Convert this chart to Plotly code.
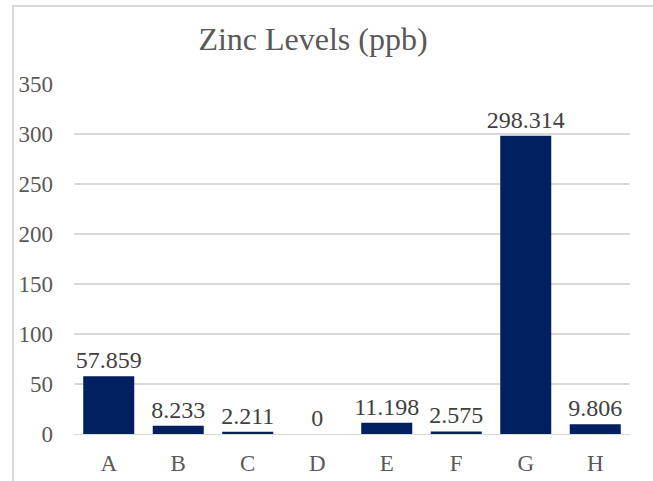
import plotly.graph_objects as go

categories = ["A", "B", "C", "D", "E", "F", "G", "H"]
zinc_ppb = [57.859, 8.233, 2.211, 0, 11.198, 2.575, 298.314, 9.806]
value_labels = ["57.859", "8.233", "2.211", "0", "11.198", "2.575", "298.314", "9.806"]
y_ticks = [0, 50, 100, 150, 200, 250, 300, 350]

W, H = 653, 481
L, R, T, B = 74, 23, 84, 47
pw, ph = W - L - R, H - T - B

fig = go.Figure()
fig.add_trace(go.Bar(
    x=categories, y=zinc_ppb,
    text=value_labels, textposition="outside", cliponaxis=False,
    constraintext="none",
    textfont=dict(family="Liberation Serif", size=24, color="#404040"),
    marker=dict(color="#002060", line=dict(width=0)),
))

# chart frame (Excel chart area border)
fig.add_shape(type="rect", xref="paper", yref="paper",
              x0=(13 - L) / pw, x1=(W + 20 - L) / pw,
              y0=(H - B - (H + 20)) / ph, y1=(H - B - 6) / ph,
              line=dict(color="#d9d9d9", width=2), layer="below")

fig.update_layout(
    width=W, height=H,
    margin=dict(l=L, r=R, t=T, b=B, autoexpand=False),
    paper_bgcolor="white", plot_bgcolor="white",
    bargap=0.266,
    showlegend=False,
    title=dict(text="Zinc Levels (ppb)", x=313 / W, xanchor="center",
               y=1 - 39 / H, yanchor="middle",
               font=dict(family="Liberation Serif", size=32, color="#595959")),
    font=dict(family="Liberation Serif", color="#595959"),
)
fig.update_yaxes(range=[0, 350], tickvals=y_ticks, showgrid=True,
                 gridcolor="#d9d9d9", gridwidth=1.3, zeroline=False,
                 showline=False, ticklabelstandoff=20, automargin=False,
                 tickfont=dict(family="Liberation Serif", size=23, color="#595959"))
fig.update_xaxes(showline=True, linecolor="#d9d9d9", linewidth=1.3,
                 ticks="", ticklabelstandoff=8, automargin=False,
                 tickfont=dict(family="Liberation Serif", size=23, color="#595959"))

fig.write_html("out.html",
               config={"displayModeBar": False, "staticPlot": True},
               post_script="document.body.style.margin='0';document.body.style.overflow='hidden';")
